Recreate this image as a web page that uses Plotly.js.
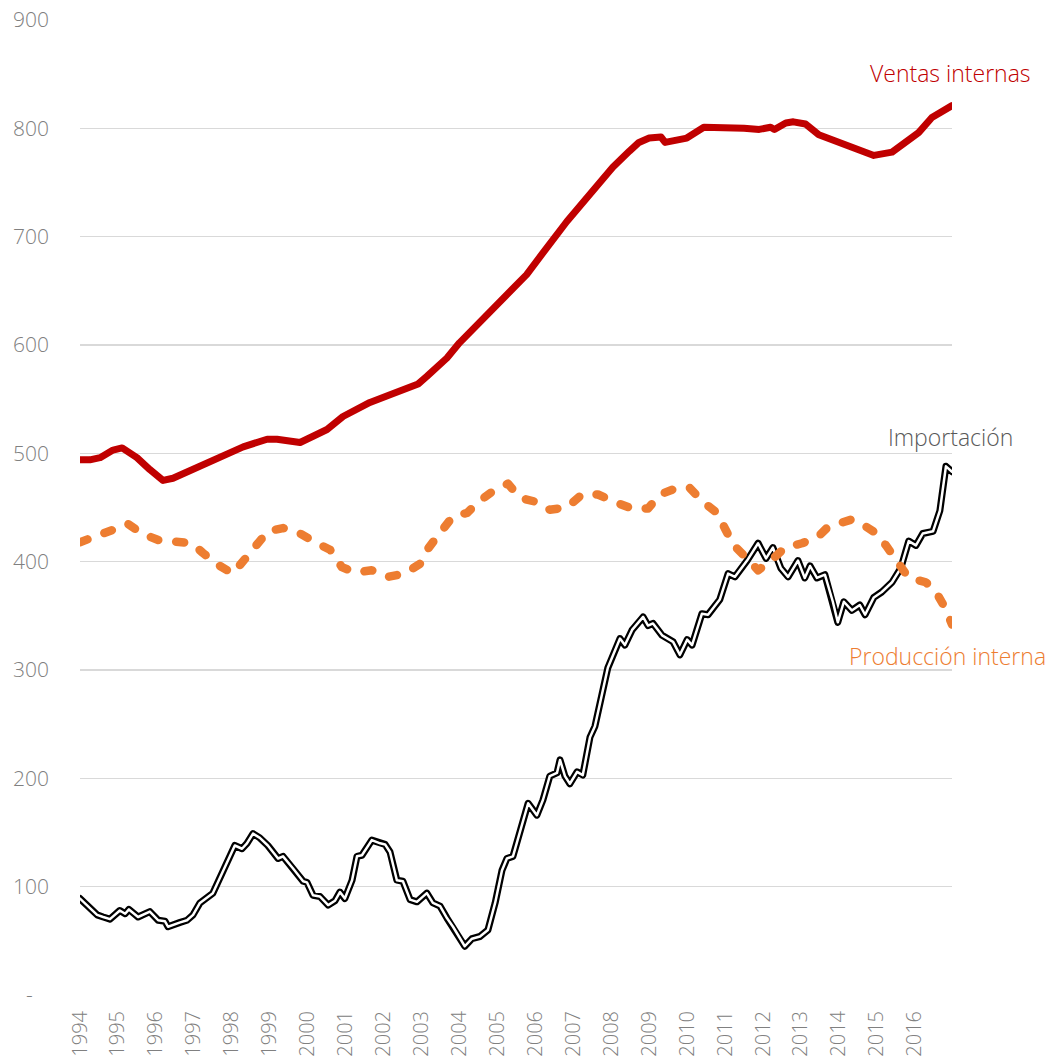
<!DOCTYPE html>
<html>
<head>
<meta charset="utf-8">
<script src="https://cdn.plot.ly/plotly-3.0.1.min.js"></script>
<style>
html,body{margin:0;padding:0;background:#fff;}
#chart{width:1056px;height:1060px;}
.js-line{stroke-linecap:round !important;stroke-linejoin:round !important;}
</style>
</head>
<body>
<div id="chart"></div>
<script>
// Year tick labels
var years = [1994,1995,1996,1997,1998,1999,2000,2001,2002,2003,2004,2005,2006,2007,2008,2009,2010,2011,2012,2013,2014,2015,2016];
var yearLabels = years.map(String);
var yTicks = [0,100,200,300,400,500,600,700,800,900];
var yTickLabels = ['-\u00a0\u00a0\u00a0','100','200','300','400','500','600','700','800','900'];

// Ventas internas
var ventasX = [1994.00,1994.26,1994.53,1994.87,1995.11,1995.50,1995.84,1996.19,1996.45,1996.71,1997.24,1997.77,1998.30,1998.93,1999.19,1999.80,2000.25,2000.51,2000.93,2001.64,2002.17,2002.43,2002.91,2003.14,2003.67,2004.00,2004.45,2004.87,2005.17,2005.46,2005.77,2006.20,2006.51,2006.83,2007.17,2007.62,2008.04,2008.48,2008.73,2009.00,2009.31,2009.42,2009.99,2010.44,2011.00,2011.50,2011.90,2012.20,2012.30,2012.60,2012.80,2013.12,2013.47,2014.00,2014.34,2014.71,2014.92,2015.40,2015.76,2016.10,2016.45,2016.98];
var ventasY = [494,494,496,503,505,496,485,475,477,481,488,497,506,513,513,510,518,522,534,547,554,557,564,571,588,602,618,633,645,654,665,685,700,714,728,747,764,779,787,791,792,787,791,801,801,800,799,801,799,805,806,804,794,787,784,778,775,778,788,796,810,821];

// Producción interna
var prodX = [1994.00,1994.45,1994.84,1995.26,1995.63,1996.06,1996.50,1996.95,1997.24,1997.64,1998.03,1998.35,1998.66,1998.95,1999.35,1999.80,2000.19,2000.59,2000.90,2001.25,2001.69,2002.12,2002.56,2002.96,2003.17,2003.49,2003.83,2004.20,2004.49,2004.88,2005.28,2005.59,2006.04,2006.38,2006.83,2007.23,2007.65,2008.10,2008.55,2008.97,2009.28,2009.73,2010.07,2010.42,2010.79,2011.02,2011.23,2011.55,2011.87,2012.21,2012.58,2013.03,2013.45,2013.71,2014.34,2014.55,2014.95,2015.24,2015.58,2015.84,2016.29,2016.56,2016.82,2016.98];
var prodY = [418,425,429,435,426,420,418,417,408,397,389,402,415,428,431,426,418,411,395,390,392,386,389,398,412,428,442,445,455,465,472,459,455,448,450,462,462,455,449,449,462,468,468,455,445,429,415,404,392,401,413,417,423,432,439,436,427,415,397,385,381,372,356,342];

// Importación
var impX = [1994.00,1994.18,1994.32,1994.45,1994.61,1994.79,1995.05,1995.19,1995.29,1995.53,1995.84,1996.06,1996.24,1996.32,1996.64,1996.82,1996.98,1997.16,1997.50,1997.69,1997.95,1998.08,1998.27,1998.40,1998.56,1998.74,1998.95,1999.22,1999.35,1999.61,1999.88,1999.98,2000.14,2000.32,2000.54,2000.72,2000.85,2000.98,2001.17,2001.30,2001.43,2001.69,2001.91,2002.04,2002.17,2002.35,2002.51,2002.70,2002.88,2003.14,2003.30,2003.49,2003.67,2003.83,2004.14,2004.33,2004.54,2004.75,2004.94,2005.12,2005.25,2005.41,2005.59,2005.81,2006.04,2006.20,2006.38,2006.57,2006.65,2006.78,2006.91,2007.10,2007.25,2007.44,2007.57,2007.76,2007.91,2008.23,2008.36,2008.55,2008.68,2008.84,2008.97,2009.10,2009.34,2009.63,2009.81,2010.00,2010.13,2010.39,2010.55,2010.86,2011.08,2011.26,2011.58,2011.87,2012.08,2012.26,2012.47,2012.66,2012.92,2013.10,2013.24,2013.42,2013.63,2013.84,2013.97,2014.13,2014.34,2014.55,2014.69,2014.92,2015.13,2015.40,2015.63,2015.84,2016.03,2016.21,2016.48,2016.66,2016.82,2016.98];
var impY = [89,83,78,74,72,70,78,75,79,72,77,69,68,63,67,69,74,85,94,109,128,138,135,140,149,145,138,126,128,117,105,104,92,91,83,87,95,89,106,128,129,143,140,139,132,106,105,88,86,94,85,82,71,63,45,52,54,60,85,115,126,128,149,177,166,180,202,205,217,202,195,206,203,238,248,278,302,329,323,337,342,349,341,343,332,326,314,328,323,352,351,365,389,386,401,417,403,413,394,386,401,385,396,385,388,363,344,363,355,360,351,367,372,381,394,419,415,426,428,447,488,483];

var FONT = 'Open Sans, Segoe UI, Noto Sans, sans-serif';

var traces = [
  {x: impX, y: impY, type: 'scatter', mode: 'lines', line: {color: '#000000', width: 7}, hoverinfo: 'skip'},
  {x: impX, y: impY, type: 'scatter', mode: 'lines', line: {color: '#ffffff', width: 2.5}, name: 'Importación'},
  {x: prodX, y: prodY, type: 'scatter', mode: 'lines', line: {color: '#ED7D31', width: 8.5, dash: '8px,18px'}, name: 'Producción interna'},
  {x: ventasX, y: ventasY, type: 'scatter', mode: 'lines', line: {color: '#C00000', width: 7}, name: 'Ventas internas'}
];

var layout = {
  width: 1056, height: 1060,
  margin: {l: 80, r: 104, t: 20, b: 65},
  paper_bgcolor: '#ffffff', plot_bgcolor: '#ffffff',
  showlegend: false,
  font: {family: FONT, color: '#808080', size: 21, weight: 300},
  xaxis: {
    range: [1994, 2016.98], tickmode: 'array', tickvals: years, ticktext: yearLabels,
    tickangle: -90, showgrid: false, zeroline: false, showline: false, ticks: '',
    tickfont: {family: FONT, size: 20, color: '#808080', weight: 300},
    ticklabelstandoff: 11, automargin: false
  },
  yaxis: {
    range: [0, 900], tickmode: 'array', tickvals: yTicks, ticktext: yTickLabels,
    showgrid: true, gridcolor: '#d9d9d9', gridwidth: 1.5, zeroline: false, showline: false, ticks: '',
    tickfont: {family: FONT, size: 21, color: '#808080', weight: 300},
    ticklabelstandoff: 30, automargin: false
  },
  annotations: [
    {xref: 'paper', yref: 'y', x: 0.998, y: 851, text: 'Ventas internas', showarrow: false, xanchor: 'center', yanchor: 'middle', font: {family: FONT, size: 23, color: '#C00000', weight: 300}},
    {xref: 'paper', yref: 'y', x: 0.998, y: 515, text: 'Importación', showarrow: false, xanchor: 'center', yanchor: 'middle', font: {family: FONT, size: 23, color: '#595959', weight: 300}},
    {xref: 'paper', yref: 'y', x: 0.995, y: 313, text: 'Producción interna', showarrow: false, xanchor: 'center', yanchor: 'middle', font: {family: FONT, size: 23, color: '#ED7D31', weight: 300}}
  ]
};

Plotly.newPlot('chart', traces, layout, {staticPlot: true, displayModeBar: false});
</script>
</body>
</html>
